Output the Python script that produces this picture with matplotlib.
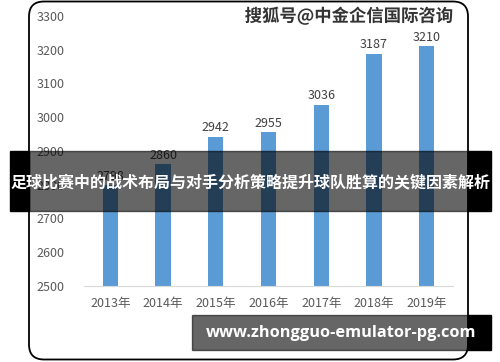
import matplotlib
matplotlib.use('Agg')
import matplotlib.pyplot as plt
from matplotlib.patches import FancyBboxPatch, Rectangle
import matplotlib.patheffects as pe

plt.rcParams['font.family'] = ['Noto Sans CJK SC', 'DejaVu Sans']

# 데이터
years = ['2013年', '2014年', '2015年', '2016年', '2017年', '2018年', '2019年']
values = [2798, 2860, 2942, 2955, 3036, 3187, 3210]
y_ticks = [2500, 2600, 2700, 2800, 2900, 3000, 3100, 3200, 3300]
banner_title = '足球比赛中的战术布局与对手分析策略提升球队胜算的关键因素解析'
watermark = '搜狐号@中金企信国际咨询'
site_text = 'www.zhongguo-emulator-pg.com'

W, H = 500, 362
fig = plt.figure(figsize=(W / 100, H / 100), dpi=100)

# 배경용 축 (픽셀 좌표, 위에서부터)
bg = fig.add_axes([0, 0, 1, 1], zorder=0)
bg.set_xlim(0, W)
bg.set_ylim(H, 0)
bg.axis('off')
bg.add_patch(FancyBboxPatch((29, 1.5), 439, 358, boxstyle='round,pad=0,rounding_size=15',
                            fill=False, ec='black', lw=1.3))

ax = fig.add_axes((84 / W, 1 - 286 / H, 369 / W, 270 / H), zorder=1)
ax.patch.set_alpha(0)
ax.bar(range(len(years)), values, width=0.29, color='#5B9BD5', zorder=2)
ax.set_ylim(2500, 3300)
ax.set_xlim(-0.5, len(years) - 0.5)
ax.set_yticks(y_ticks)
ax.set_xticks(range(len(years)))
ax.set_xticklabels(years)
for s in ['top', 'right', 'left']:
    ax.spines[s].set_visible(False)
ax.spines['bottom'].set_color('#d9d9d9')
ax.tick_params(length=0, labelsize=9, colors='#595959')
ax.tick_params(axis='y', pad=14)
ax.tick_params(axis='x', pad=8)

for i, v in enumerate(values):
    ax.text(i, v + 8, str(v), ha='center', va='bottom', fontsize=9, color='#404040')

# 위에 덮는 축
fg = fig.add_axes([0, 0, 1, 1], zorder=2)
fg.set_xlim(0, W)
fg.set_ylim(H, 0)
fg.axis('off')

# 워터마크
fg.text(349, 16, watermark, ha='center', va='center', fontsize=12.5,
        fontweight='bold', color='#333333',
        path_effects=[pe.withStroke(linewidth=2, foreground='white')])

# 가운데 배너
fg.add_patch(Rectangle((10, 151), 19, 60, color='black'))
fg.add_patch(Rectangle((468, 151), 23, 60, color='black'))
fg.add_patch(Rectangle((29, 151), 439, 60, color='black', alpha=0.6))
fg.text(250, 182, banner_title, ha='center', va='center', fontsize=11.5,
        fontweight='bold', color='white')

# 아래 배너
fg.add_patch(Rectangle((468, 315), 23, 35, color='black'))
fg.add_patch(Rectangle((192, 315), 276, 35, color='black', alpha=0.6))
fg.text(341, 333, site_text, ha='center', va='center', fontsize=11.8,
        fontweight='bold', color='white', family=['Open Sans', 'DejaVu Sans'])

fig.savefig('out.png', dpi=100, facecolor='white')
